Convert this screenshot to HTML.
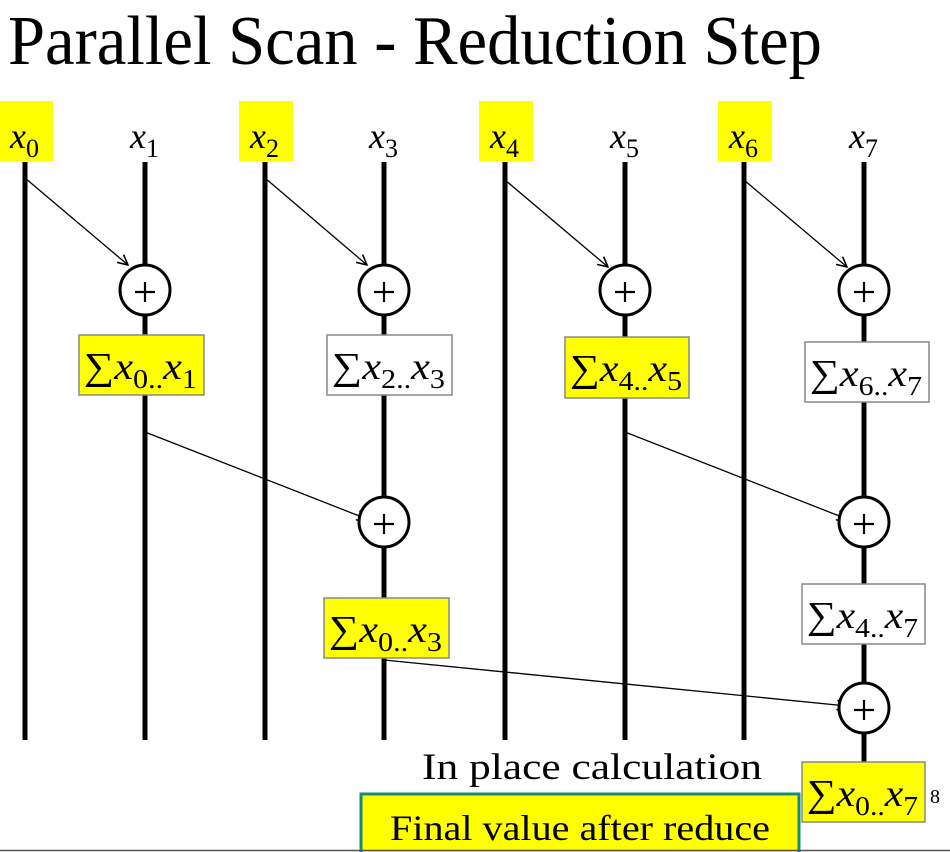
<!DOCTYPE html>
<html><head><meta charset="utf-8"><style>
html,body{margin:0;padding:0;background:#fff;width:950px;height:852px;overflow:hidden}
svg text{font-family:"Liberation Serif",serif}
</style></head><body>
<svg id="s" width="950" height="852" viewBox="0 0 950 852" xmlns="http://www.w3.org/2000/svg" font-family="Liberation Serif, serif">
<defs><marker id="ah" markerWidth="12" markerHeight="12" refX="11" refY="6" orient="auto" markerUnits="userSpaceOnUse"><path d="M1,1 L11,6 L1,11" fill="none" stroke="#000" stroke-width="1.6"/></marker></defs>
<text x="8" y="64" style="font-family:'Liberation Serif',serif;font-size:70px" textLength="814" lengthAdjust="spacingAndGlyphs">Parallel Scan - Reduction Step</text>
<g id="g"></g>
<text x="422" y="779" style="font-family:'Liberation Serif',serif;font-size:37px" textLength="340" lengthAdjust="spacingAndGlyphs">In place calculation</text>
<rect x="361" y="794" width="438" height="62" fill="#ffff00" stroke="#1a8a78" stroke-width="3"/>
<text x="390" y="840" style="font-family:'Liberation Serif',serif;font-size:36px" textLength="380" lengthAdjust="spacingAndGlyphs">Final value after reduce</text>
<text x="930" y="803" style="font-family:'Liberation Serif',serif;font-size:20px">8</text>
<line x1="0" y1="850.5" x2="950" y2="850.5" stroke="#555" stroke-width="1.5"/>
</svg>
<script>
const colX=[25,145,265,384,505,625,744,864];
const inputs=["0","1","2","3","4","5","6","7"];
const highlighted=[0,2,4,6];
const adders=[[1,290],[3,290],[5,290],[7,290],[3,522],[7,522],[7,708]];
const sums=[["0","1",79,335,125,60,1],["2","3",327,335,125,60,0],["4","5",565,337,124,61,1],["6","7",805,342,124,60,0],["0","3",324,598,125,60,1],["4","7",802,584,123,60,0],["0","7",802,762,123,60,1]];
const arrows=[[0,178,1,265],[2,178,3,265],[4,180,5,267],[6,180,7,267],[1,432,3,519],[5,432,7,519],[3,660,7,706]];
const NS="http://www.w3.org/2000/svg",g=document.getElementById("g");
function mk(t,a){const e=document.createElementNS(NS,t);for(const k in a)e.setAttribute(k,a[k]);g.appendChild(e);return e;}
colX.forEach((x,i)=>{
 if(highlighted.includes(i)){const r=mk("rect",{x:x-26,y:101,width:54,height:60,fill:"#ffff00"});
 
 }
 const l=mk("line",{x1:x,y1:162,x2:x,y2:i==7?770:740,stroke:"#000","stroke-width":5});
 
 
 const t=mk("text",{x:x-15,y:148,"font-size":36,"font-family":"Liberation Serif, serif"});
 
 
 t.innerHTML='<tspan font-style="italic">x</tspan><tspan font-size="26" dy="9">'+inputs[i]+'</tspan>';
});
arrows.forEach((a,i)=>{
 const l=mk("line",{x1:colX[a[0]],y1:a[1],x2:colX[a[2]]-17,y2:a[3],stroke:"#000","stroke-width":1.3,"marker-end":"url(#ah)"});
 
 
});
sums.forEach((s,i)=>{
 const r=mk("rect",{x:s[2],y:s[3],width:s[4],height:s[5],fill:s[6]?"#ffff00":"#fff",stroke:"#888","stroke-width":1.5});
 
 
 const t=mk("text",{x:s[2]+5,y:s[3]+44,"font-size":38,"font-family":"Liberation Serif, serif",textLength:s[4]-12,lengthAdjust:"spacingAndGlyphs"});
 
 
 t.innerHTML='∑<tspan font-style="italic">x</tspan><tspan font-size="27" dy="9">'+s[0]+'..</tspan><tspan font-style="italic" dy="-9">x</tspan><tspan font-size="27" dy="9">'+s[1]+'</tspan>';
});
adders.forEach((a,i)=>{
 const c=mk("circle",{cx:colX[a[0]],cy:a[1],r:25,fill:"#fff",stroke:"#000","stroke-width":3});
 
 
 const p=mk("path",{d:`M${colX[a[0]]-10},${a[1]+2}h20M${colX[a[0]]},${a[1]-8}v20`,stroke:"#000","stroke-width":2.2});
 
 
});
</script>
</body></html>
